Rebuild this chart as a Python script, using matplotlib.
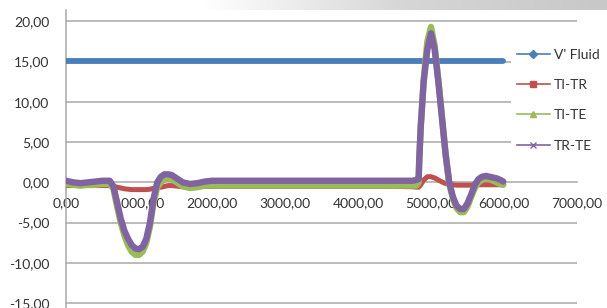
import matplotlib
matplotlib.use("Agg")
import matplotlib.pyplot as plt
from matplotlib.lines import Line2D
import numpy as np

# ---- data ----
x_flow = [0, 500, 1000, 1500, 2000, 2500, 3000, 3500, 4000, 4500, 5000, 5500, 5990]
v_fluid = [15.1, 15.1, 15.1, 15.1, 15.1, 15.1, 15.1, 15.1, 15.1, 15.1, 15.1, 15.1, 15.1]

x_t = [0, 100, 200, 300, 400, 500, 600, 650, 700, 750, 800, 850, 900, 950,
       1000, 1050, 1100, 1150, 1200, 1250, 1300, 1350, 1400, 1450, 1500, 1550,
       1600, 1700, 1800, 1900, 2000, 2500, 3000, 3500, 4000, 4500, 4750, 4800,
       4830, 4840, 4860, 4900, 4950, 5000, 5050, 5100, 5150, 5200, 5250, 5300,
       5350, 5400, 5450, 5500, 5550, 5600, 5650, 5700, 5750, 5800, 5850, 5900,
       5950, 5990]

ti_tr = [-0.4, -0.4, -0.4, -0.4, -0.4, -0.4, -0.4, -0.5, -0.6, -0.7, -0.8, -0.85, -0.9, -0.9,
         -0.9, -0.9, -0.9, -0.85, -0.75, -0.65, -0.6, -0.5, -0.4, -0.4, -0.45, -0.5,
         -0.55, -0.6, -0.55, -0.5, -0.5, -0.5, -0.5, -0.5, -0.5, -0.5, -0.55, -0.6,
         -0.6, -0.5, -0.3, 0.3, 0.7, 0.7, 0.55, 0.3, 0.05, -0.15, -0.25, -0.3,
         -0.35, -0.35, -0.35, -0.35, -0.35, -0.3, -0.3, -0.3, -0.3, -0.3, -0.3, -0.3,
         -0.3, -0.3]

ti_te = [-0.2, -0.3, -0.4, -0.3, -0.3, -0.2, -0.2, -0.8, -3.0, -5.0, -6.6, -7.8, -8.6, -9.0,
         -9.0, -8.6, -7.5, -5.5, -2.5, -0.6, 0.0, 0.4, 0.5, 0.4, 0.1, -0.2,
         -0.5, -0.7, -0.6, -0.4, -0.4, -0.4, -0.4, -0.4, -0.4, -0.4, -0.4, -0.4,
         0.0, 3.0, 7.0, 12.8, 17.5, 19.3, 17.0, 12.8, 8.2, 3.5, -0.2, -2.0,
         -3.2, -3.7, -3.7, -3.0, -1.8, -0.7, 0.0, 0.3, 0.5, 0.4, 0.2, 0.0,
         -0.2, -0.3]

tr_te = [0.2, 0.0, -0.1, 0.0, 0.1, 0.2, 0.2, -0.5, -2.5, -4.5, -6.0, -7.0, -7.8, -8.2,
         -8.3, -8.0, -7.0, -5.0, -2.0, 0.0, 0.7, 1.0, 1.0, 0.9, 0.6, 0.3,
         0.0, -0.2, -0.1, 0.1, 0.2, 0.2, 0.2, 0.2, 0.2, 0.2, 0.2, 0.3,
         0.4, 3.0, 7.0, 12.5, 16.5, 18.5, 16.5, 12.5, 8.0, 3.5, 0.0, -1.8,
         -2.9, -3.3, -3.3, -2.6, -1.5, -0.3, 0.4, 0.7, 0.8, 0.7, 0.6, 0.5,
         0.3, 0.1]

names = ["V' Fluid", "TI-TR", "TI-TE", "TR-TE"]
colors = ["#4a7ebb", "#c0504d", "#9bbb59", "#8064a2"]
markers = ["D", "s", "^", "x"]

plt.rcParams["font.family"] = ["Lato", "DejaVu Sans"]

fig = plt.figure(figsize=(6.07, 3.08), dpi=100)

# grey band at the top of the screenshot
band = fig.add_axes([0, 1 - 10 / 308, 1, 10 / 308])
grad = np.linspace(0, 1, 256).reshape(1, -1)
band.imshow(grad, aspect="auto", cmap=matplotlib.colors.LinearSegmentedColormap.from_list(
    "g", ["#ffffff", "#ffffff", "#d6d6d6", "#c8c8c8"]), extent=[0, 1, 0, 1])
band.axis("off")

ax = fig.add_axes([66 / 607, 0, (577 - 66) / 607, 298 / 308])
ax.set_xlim(0, 7000)
ax.set_ylim(-15.6, 21.4)

ax.plot(x_flow, v_fluid, color=colors[0], lw=4.2, solid_capstyle="round", zorder=3)
ax.plot(x_t, ti_tr, color=colors[1], lw=3.6, solid_capstyle="round", zorder=4)
ax.plot(x_t, ti_te, color=colors[2], lw=4.6, solid_capstyle="round", zorder=5)
ax.plot(x_t, tr_te, color=colors[3], lw=4.6, solid_capstyle="round", zorder=6)

yt = [-15, -10, -5, 0, 5, 10, 15, 20]
ax.set_yticks(yt)
ax.set_yticklabels(["%d,00" % v for v in yt])
xt = [0, 1000, 2000, 3000, 4000, 5000, 6000, 7000]
ax.set_xticks(xt)
ax.set_xticklabels(["%d,00" % v for v in xt])

for v in yt:
    if v != 0:
        ax.axhline(v, color="#a8a8a8", lw=1.1, zorder=1)

for s in ["top", "right"]:
    ax.spines[s].set_visible(False)
ax.spines["bottom"].set_position(("data", 0))
ax.spines["bottom"].set_color("#a8a8a8")
ax.spines["bottom"].set_linewidth(1.1)
ax.spines["left"].set_color("#a8a8a8")
ax.spines["left"].set_linewidth(1.1)
ax.tick_params(axis="both", length=0, labelsize=10, colors="#333333")
ax.tick_params(axis="y", pad=12)
ax.tick_params(axis="x", pad=11)

handles = [Line2D([0], [0], color=c, lw=1.2, marker=m, markersize=4,
                  markeredgewidth=1) for c, m in zip(colors, markers)]
leg = fig.legend(handles, names, loc="upper left", bbox_to_anchor=(511 / 607, 1 - 43 / 308),
                 frameon=True, fontsize=10, handlelength=2.4, labelspacing=1.32,
                 borderpad=0.4, handletextpad=0.3, borderaxespad=0)
leg.get_frame().set_facecolor("white")
leg.get_frame().set_edgecolor("none")
leg.get_frame().set_alpha(1)
leg.set_zorder(10)
for t in leg.get_texts():
    t.set_color("#333333")

fig.savefig("out.png", dpi=100)
